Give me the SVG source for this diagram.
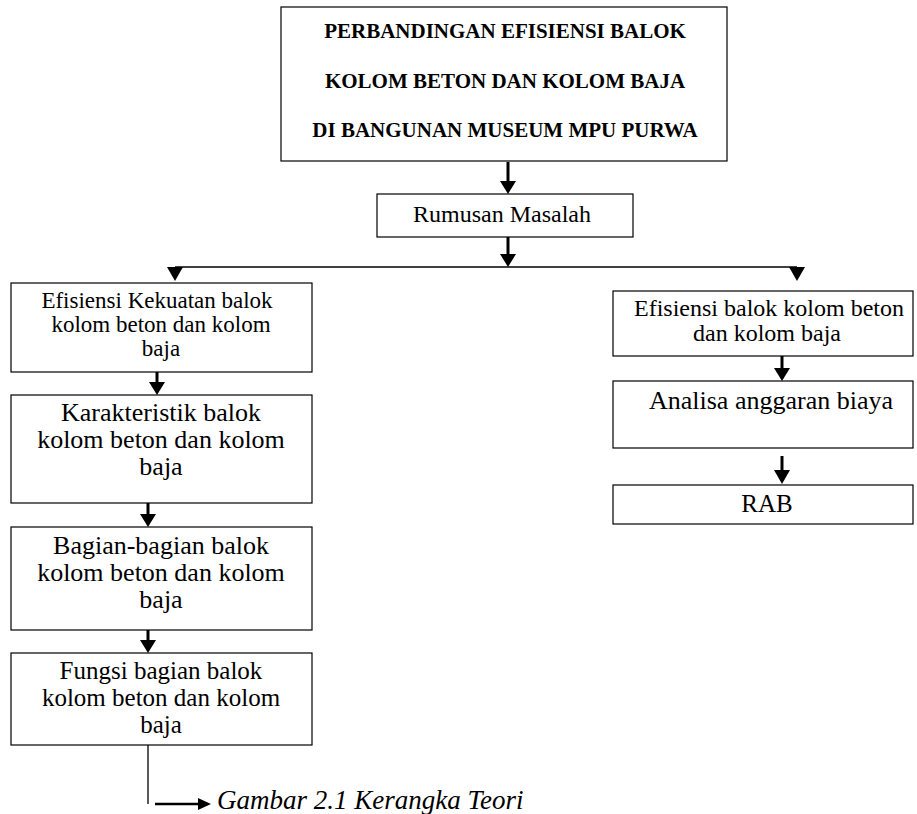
<svg xmlns="http://www.w3.org/2000/svg" width="917" height="814" viewBox="0 0 917 814">
<defs>
<style>
.box{fill:#fff;stroke:#000;stroke-width:1.2}
.t{font-family:"Liberation Serif","Times New Roman",serif;fill:#000;text-anchor:middle}
.tb{font-weight:bold;font-size:21px}
.thin{stroke:#000;stroke-width:1.3;fill:none}
.thick{stroke:#000;stroke-width:3;fill:none}
.head{fill:#000}
</style>
</defs>
<rect width="917" height="814" fill="#fff"/>
<g id="connectors">
<line class="thick" x1="508" y1="162" x2="508" y2="183"/>
<polygon class="head" points="500,181 516,181 508,194"/>
<line class="thick" x1="508" y1="237" x2="508" y2="256"/>
<polygon class="head" points="500,254 516,254 508,267"/>
<line class="thin" x1="175" y1="267" x2="797" y2="267"/>
<polygon class="head" points="167,267 183,267 175,281"/>
<polygon class="head" points="789,267 805,267 797,281"/>
<line class="thick" x1="157" y1="372" x2="157" y2="384"/>
<polygon class="head" points="149,382 165,382 157,395"/>
<line class="thick" x1="148" y1="503" x2="148" y2="516"/>
<polygon class="head" points="140,514 156,514 148,527"/>
<line class="thick" x1="148" y1="630" x2="148" y2="642"/>
<polygon class="head" points="140,640 156,640 148,653"/>
<line class="thick" x1="782" y1="356" x2="782" y2="370"/>
<polygon class="head" points="774,368 790,368 782,381"/>
<line class="thick" x1="782" y1="456" x2="782" y2="472"/>
<polygon class="head" points="774,470 790,470 782,484"/>
<line class="thin" x1="148" y1="745" x2="148" y2="804"/>
<line stroke="#000" stroke-width="2.5" x1="155" y1="804" x2="200" y2="804"/>
<polygon class="head" points="198,798 211,804 198,810"/>
</g>
<g id="title">
<rect class="box" x="281" y="7" width="446" height="154"/>
<text class="t tb" x="505" y="38">PERBANDINGAN EFISIENSI BALOK</text>
<text class="t tb" x="505" y="88">KOLOM BETON DAN KOLOM BAJA</text>
<text class="t tb" x="505" y="137">DI BANGUNAN MUSEUM MPU PURWA</text>
</g>
<g id="rumusan">
<rect class="box" x="377" y="194" width="256" height="43"/>
<text class="t" x="502" y="222" font-size="24">Rumusan Masalah</text>
</g>
<g id="efisiensi-kekuatan">
<rect class="box" x="11" y="283" width="301" height="89"/>
<text class="t" x="157" y="308" font-size="23">Efisiensi Kekuatan balok</text>
<text class="t" x="161" y="332" font-size="23">kolom beton dan kolom</text>
<text class="t" x="161" y="356" font-size="23">baja</text>
</g>
<g id="karakteristik">
<rect class="box" x="11" y="395" width="301" height="108"/>
<text class="t" x="161" y="421" font-size="26">Karakteristik balok</text>
<text class="t" x="161" y="448" font-size="26">kolom beton dan kolom</text>
<text class="t" x="161" y="475" font-size="26">baja</text>
</g>
<g id="bagian">
<rect class="box" x="11" y="527" width="301" height="103"/>
<text class="t" x="161" y="554" font-size="26">Bagian-bagian balok</text>
<text class="t" x="161" y="581" font-size="26">kolom beton dan kolom</text>
<text class="t" x="161" y="608" font-size="26">baja</text>
</g>
<g id="fungsi">
<rect class="box" x="11" y="653" width="301" height="92"/>
<text class="t" x="161" y="679" font-size="25">Fungsi bagian balok</text>
<text class="t" x="161" y="706" font-size="25">kolom beton dan kolom</text>
<text class="t" x="161" y="733" font-size="25">baja</text>
</g>
<g id="efisiensi-balok">
<rect class="box" x="613" y="291" width="300" height="65"/>
<text class="t" x="769" y="316" font-size="24">Efisiensi balok kolom beton</text>
<text class="t" x="767" y="341" font-size="24">dan kolom baja</text>
</g>
<g id="analisa">
<rect class="box" x="613" y="381" width="300" height="67"/>
<text class="t" x="771" y="409" font-size="26">Analisa anggaran biaya</text>
</g>
<g id="rab">
<rect class="box" x="613" y="485" width="300" height="39"/>
<text class="t" x="767" y="512" font-size="25">RAB</text>
</g>
<g id="caption">
<text x="217" y="809" font-family="Liberation Serif, Times New Roman, serif" font-style="italic" font-size="27">Gambar 2.1 Kerangka Teori</text>
</g>
</svg>
